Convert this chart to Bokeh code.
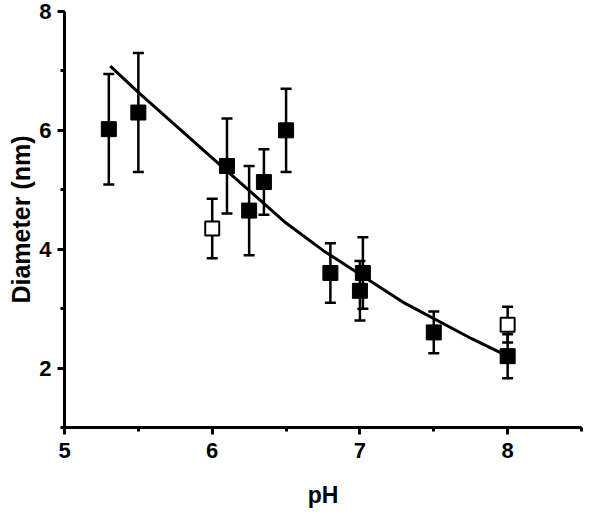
from bokeh.plotting import figure
from bokeh.models import ColumnDataSource, Whisker, TeeHead, SingleIntervalTicker, Range1d, Title
from bokeh.embed import file_html
from bokeh.resources import INLINE

# Filled squares
ph_filled = [5.3, 5.5, 6.1, 6.25, 6.35, 6.5, 6.8, 7.0, 7.02, 7.5, 8.0]
d_filled = [6.02, 6.3, 5.4, 4.65, 5.13, 6.0, 3.6, 3.3, 3.6, 2.6, 2.2]
e_filled = [0.93, 1.0, 0.8, 0.75, 0.55, 0.7, 0.5, 0.5, 0.6, 0.35, 0.37]

# Open squares
ph_open = [6.0, 8.0]
d_open = [4.35, 2.73]
e_open = [0.5, 0.3]

# Fitted curve
ph_fit = [5.31, 5.5, 6.07, 6.5, 6.75, 7.29, 7.76, 8.0]
d_fit = [7.08, 6.64, 5.38, 4.44, 3.98, 3.11, 2.49, 2.2]

FONT = "Liberation Sans"

p = figure(width=584, height=510, output_backend="svg", toolbar_location=None,
           x_range=Range1d(5, 8.5), y_range=Range1d(1, 8),
           min_border_left=64, min_border_right=3, min_border_top=11, min_border_bottom=81)
p.outline_line_color = None
p.grid.visible = False
p.background_fill_color = "white"

src_f = ColumnDataSource(dict(x=ph_filled, y=d_filled,
                              lo=[a - b for a, b in zip(d_filled, e_filled)],
                              hi=[a + b for a, b in zip(d_filled, e_filled)]))
src_o = ColumnDataSource(dict(x=ph_open, y=d_open,
                              lo=[a - b for a, b in zip(d_open, e_open)],
                              hi=[a + b for a, b in zip(d_open, e_open)]))

for src in (src_o, src_f):
    w = Whisker(source=src, base="x", lower="lo", upper="hi", line_width=2.5, line_color="black",
                lower_head=TeeHead(size=11, line_width=2.5, line_color="black"),
                upper_head=TeeHead(size=11, line_width=2.5, line_color="black"))
    p.add_layout(w)

p.line(ph_fit, d_fit, line_width=3, line_color="black")

p.scatter("x", "y", source=src_o, marker="square", size=14, fill_color="white",
          line_color="black", line_width=2)
p.scatter("x", "y", source=src_f, marker="square", size=15, fill_color="black",
          line_color="black", line_width=1)

p.xaxis.ticker = SingleIntervalTicker(interval=1, num_minor_ticks=2)
p.yaxis.ticker = SingleIntervalTicker(interval=2, num_minor_ticks=2)

for ax in (p.xaxis[0], p.yaxis[0]):
    ax.axis_line_width = 3
    ax.axis_line_color = "black"
    ax.major_tick_line_width = 3
    ax.minor_tick_line_width = 3
    ax.major_tick_out = 7
    ax.major_tick_in = 0
    ax.minor_tick_out = 4
    ax.minor_tick_in = 0
    ax.major_label_text_font = FONT
    ax.major_label_text_font_style = "bold"
    ax.major_label_text_font_size = "22px"
    ax.major_label_text_color = "black"
    ax.axis_label_text_font = FONT
    ax.axis_label_text_font_style = "bold"
    ax.axis_label_text_font_size = "23px"
    ax.axis_label_text_color = "black"

p.xaxis.axis_label = "pH"
p.xaxis.major_label_standoff = 8
p.yaxis.major_label_standoff = 6
p.xaxis.axis_label_standoff = 21

ytitle = Title(text="Diameter (nm)", align="center", offset=-15, standoff=4,
               text_font=FONT, text_font_style="bold", text_font_size="25px",
               text_color="black")
p.add_layout(ytitle, "left")

open("out.html", "w").write(file_html(p, INLINE))
